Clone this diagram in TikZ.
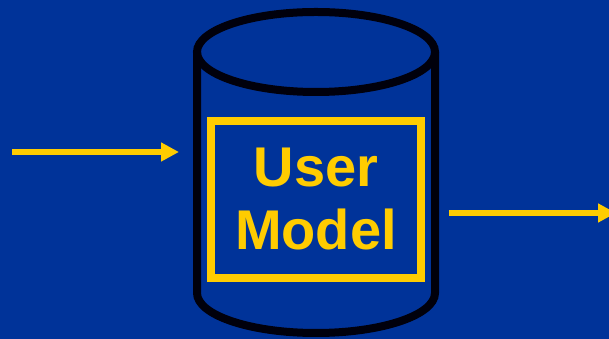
\documentclass[tikz,border=0pt]{standalone}
\usepackage{fontspec}
\newfontfamily\umfont{Liberation Sans}
\usetikzlibrary{arrows.meta}
\definecolor{SlideBlue}{HTML}{003399}
\definecolor{SlideYellow}{HTML}{FFCC00}
\definecolor{DrumBlack}{HTML}{00000C}
\tikzset{
    drumline/.style={draw=DrumBlack, line width=8pt},
    modelbox/.style={draw=SlideYellow, line width=8pt, minimum width=210pt, minimum height=157pt, inner sep=0pt, text=SlideYellow, align=center, font=\umfont\bfseries\fontsize{56}{63}\selectfont},
    flowarrow/.style={draw=SlideYellow, line width=6pt, -{Triangle[length=18pt, width=18pt]}}
}
\begin{document}
\begin{tikzpicture}[x=1pt, y=1pt]
            \clip (0,0) rectangle (609,339);
            \fill[SlideBlue] (0,0) rectangle (609,339);
            % data store drum
            \draw[drumline] (316,287) ellipse[x radius=119, y radius=40];
            \draw[drumline] (197,287) -- (197,46)
                arc[start angle=180, end angle=360, x radius=119, y radius=40] -- (435,287);
            \node[modelbox] (model) at (316,139.5) {User\\Model};
            % incoming and outgoing flows
            \coordinate (inStart) at (12,187);
            \coordinate (inEnd) at (179,187);
            \coordinate (outStart) at (449,126);
            \coordinate (outEnd) at (616,126);
            \draw[flowarrow] (inStart) -- (inEnd);
            \draw[flowarrow] (outStart) -- (outEnd);
        \end{tikzpicture}
\end{document}
